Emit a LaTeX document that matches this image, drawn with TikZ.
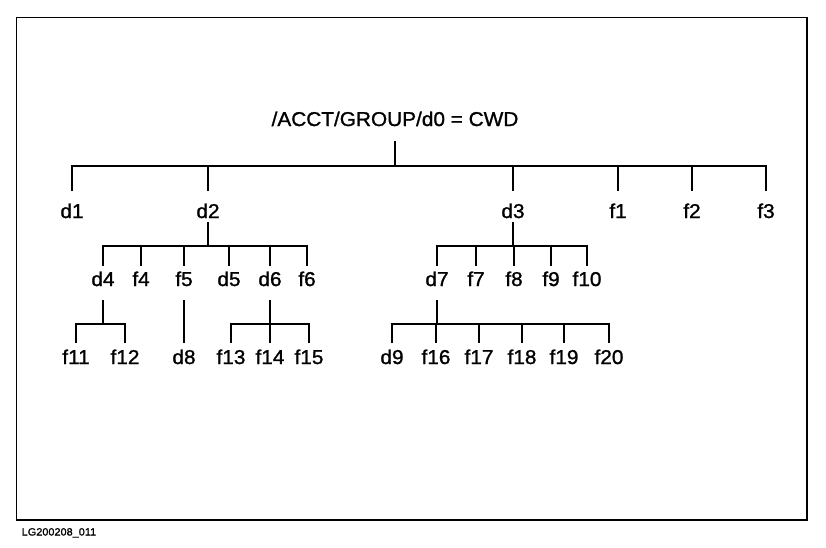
\documentclass[tikz,border=0pt]{standalone}
\usepackage{fontspec}
\setmainfont{Liberation Sans}[FakeStretch=1.04,FakeBold=1.2]
\begin{document}
\begin{tikzpicture}[x=1pt,y=-1pt,
  lbl/.style={anchor=base, inner sep=0pt, font=\fontsize{20}{24}\selectfont},
  wire/.style={line width=1.6pt, line cap=butt, line join=miter},
  frame/.style={line width=1.7pt}]
\useasboundingbox (0,0) rectangle (826,547);
\draw[frame] (16.5,17.5) rectangle (807,520);
% bar levels
\coordinate (bar1) at (0,166);
\coordinate (end1) at (0,191);
\coordinate (bar2) at (0,246);
\coordinate (end2) at (0,266);
\coordinate (bar3) at (0,324);
\coordinate (end3) at (0,343);
% nodes
\node[lbl] (root) at (395,126) {/ACCT/GROUP/d0 = CWD};
\node[lbl] (d1) at (72,218) {d1};
\node[lbl] (d2) at (208,218) {d2};
\node[lbl] (d3) at (513,218) {d3};
\node[lbl] (f1) at (618,218) {f1};
\node[lbl] (f2) at (692,218) {f2};
\node[lbl] (f3) at (766,218) {f3};
\node[lbl] (d4) at (103,286) {d4};
\node[lbl] (f4) at (141,286) {f4};
\node[lbl] (f5) at (184,286) {f5};
\node[lbl] (d5) at (229,286) {d5};
\node[lbl] (d6) at (270,286) {d6};
\node[lbl] (f6) at (307,286) {f6};
\node[lbl] (d7) at (437,286) {d7};
\node[lbl] (f7) at (476,286) {f7};
\node[lbl] (f8) at (514,286) {f8};
\node[lbl] (f9) at (551,286) {f9};
\node[lbl] (f10) at (587,286) {f10};
\node[lbl] (f11) at (76,364) {f11};
\node[lbl] (f12) at (125,364) {f12};
\node[lbl] (d8) at (184,364) {d8};
\node[lbl] (f13) at (231,364) {f13};
\node[lbl] (f14) at (270,364) {f14};
\node[lbl] (f15) at (309,364) {f15};
\node[lbl] (d9) at (392,364) {d9};
\node[lbl] (f16) at (436,364) {f16};
\node[lbl] (f17) at (479,364) {f17};
\node[lbl] (f18) at (522,364) {f18};
\node[lbl] (f19) at (564,364) {f19};
\node[lbl] (f20) at (609,364) {f20};
\node[anchor=base west, inner sep=0pt, font=\fontsize{10.5}{12}\selectfont] (tag) at (21.5,535.5) {LG200208\_011};
% level 1
\draw[wire] (root.base) ++(0,15) -- (root |- bar1);
\draw[wire] (d1 |- end1) -- (d1 |- bar1) -- (f3 |- bar1) -- (f3 |- end1);
\foreach \n in {d2,d3,f1,f2} \draw[wire] (\n |- bar1) -- (\n |- end1);
% level 2 under d2
\draw[wire] (d2.base) ++(0,4) -- (d2 |- bar2);
\draw[wire] (d4 |- end2) -- (d4 |- bar2) -- (f6 |- bar2) -- (f6 |- end2);
\foreach \n in {f4,f5,d5,d6} \draw[wire] (\n |- bar2) -- (\n |- end2);
% level 2 under d3
\draw[wire] (d3.base) ++(0,4) -- (d3 |- bar2);
\draw[wire] (d7 |- end2) -- (d7 |- bar2) -- (f10 |- bar2) -- (f10 |- end2);
\foreach \n in {f7,f8,f9} \draw[wire] (\n |- bar2) -- (\n |- end2);
% level 3 under d4
\draw[wire] (d4.base) ++(0,14) -- (d4 |- bar3);
\draw[wire] (f11 |- end3) -- (f11 |- bar3) -- (f12 |- bar3) -- (f12 |- end3);
% under f5
\draw[wire] (f5.base) ++(0,14) -- (d8 |- end3);
% under d6
\draw[wire] (d6.base) ++(0,14) -- (d6 |- bar3);
\draw[wire] (f13 |- end3) -- (f13 |- bar3) -- (f15 |- bar3) -- (f15 |- end3);
\draw[wire] (f14 |- bar3) -- (f14 |- end3);
% under d7
\draw[wire] (d7.base) ++(0,14) -- (d7 |- bar3);
\draw[wire] (d9 |- end3) -- (d9 |- bar3) -- (f20 |- bar3) -- (f20 |- end3);
\foreach \n in {f16,f17,f18,f19} \draw[wire] (\n |- bar3) -- (\n |- end3);
\end{tikzpicture}
\end{document}
